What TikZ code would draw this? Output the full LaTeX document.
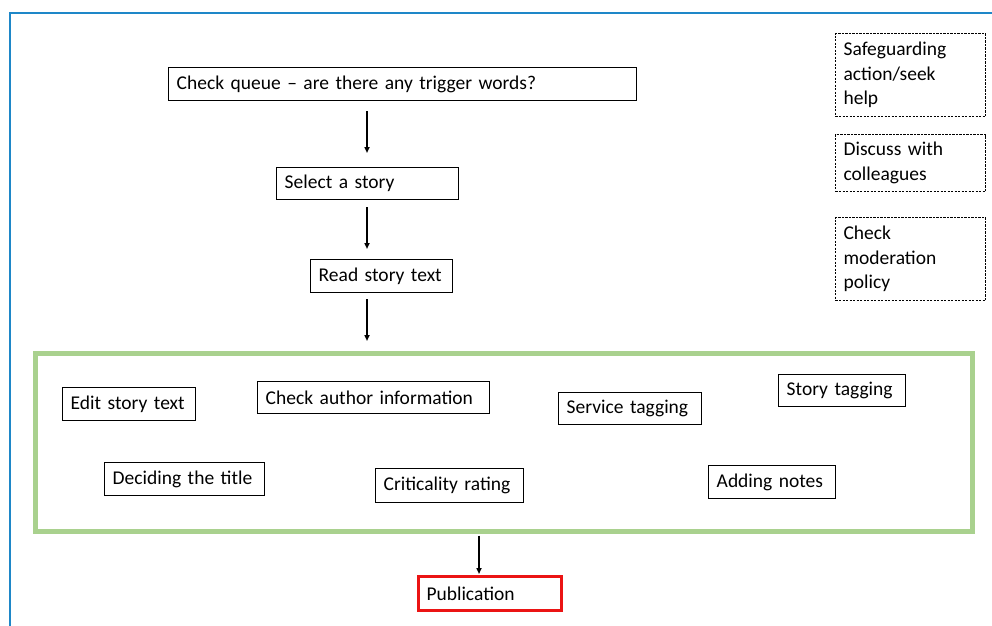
\documentclass[tikz,border=0pt]{standalone}
\usepackage{fontspec}
\setmainfont{Carlito}
\usetikzlibrary{arrows.meta}
\definecolor{frameblue}{RGB}{30,135,200}
\definecolor{boxgreen}{RGB}{169,209,142}
\definecolor{pubred}{RGB}{235,20,20}
\tikzset{
  every node/.style={font=\fontsize{19.5}{24.5}\selectfont},
  box/.style n args={3}{draw, line width=1.4pt, anchor=north west, inner xsep=8pt, inner ysep=0pt,
    text width=#1, minimum height=#2, align=left},
  dbox/.style n args={2}{draw, line width=1.1pt, dash pattern=on 2.2pt off 1.3pt, anchor=north west,
    inner xsep=8pt, inner ysep=0pt, text width=#1, minimum height=#2, align=left},
  arr/.style={line width=1.5pt, -{Triangle[length=6pt,width=5pt]}},
}
\begin{document}
\begin{tikzpicture}[x=1pt,y=-1pt]
\useasboundingbox (0,0) rectangle (992,625);
% frame
\draw[frameblue, line width=2pt] (10,630) -- (10,13) -- (1000,13);
% main flow
\node[box={452pt}{33pt}{}] (q) at (168,67) {Check queue -- are there any trigger words?};
\node[box={166pt}{32pt}{}] (s) at (276,167) {Select a story};
\node[box={126pt}{33pt}{}] (r) at (310,259) {Read story text};
\node[draw=boxgreen, line width=4.5pt, anchor=north west, inner sep=0pt, minimum width=937pt, minimum height=178pt] (g) at (33,351) {};
\node[box={117pt}{33pt}{}] (e) at (62,387) {Edit story text};
\node[box={216pt}{32pt}{}] (ca) at (257,381) {Check author information};
\node[box={127pt}{32pt}{}] (sv) at (558,392) {Service tagging};
\node[box={111pt}{32pt}{}] (st) at (778,374) {Story tagging};
\node[box={144pt}{33pt}{}] (dt) at (104,462) {Deciding the title};
\node[box={132pt}{34pt}{}] (cr) at (375,468) {Criticality rating};
\node[box={111pt}{33pt}{}] (an) at (708,465) {Adding notes};
\node[draw=pubred, line width=3pt, anchor=north west, inner xsep=8pt, inner ysep=0pt, text width=127pt, minimum height=34pt, align=left] (p) at (417,575) {Publication};
% side boxes
\node[dbox={134pt}{83pt}] (sg) at (835,33) {Safeguarding\\action/seek\\help};
\node[dbox={134pt}{57pt}] (dc) at (835,134) {Discuss with\\colleagues};
\node[dbox={134pt}{83pt}] (cm) at (835,217) {Check\\moderation\\policy};
% arrows
\coordinate (ax) at (367,0);
\coordinate (bx) at (479,0);
\draw[arr, shorten <=10pt, shorten >=14pt] (ax |- q.south) -- (ax |- s.north);
\draw[arr, shorten <=7pt, shorten >=10pt] (ax |- s.south) -- (ax |- r.north);
\draw[arr, shorten <=6pt, shorten >=10pt] (ax |- r.south) -- (ax |- g.north);
\draw[arr, shorten <=2pt, shorten >=1pt] (bx |- g.south) -- (bx |- p.north);
\end{tikzpicture}
\end{document}
